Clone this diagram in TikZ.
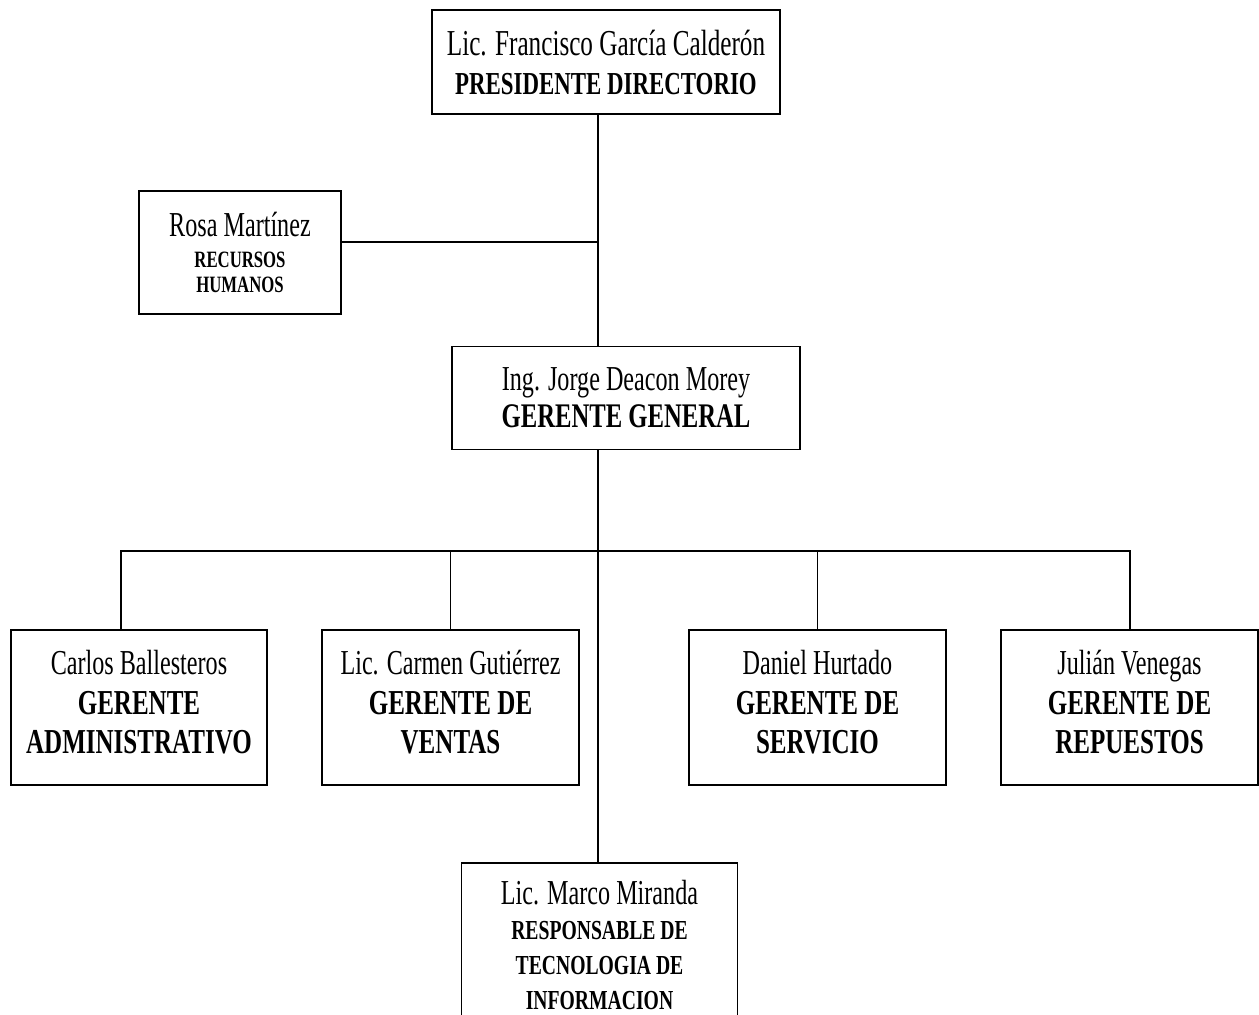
\documentclass[tikz,border=0pt]{standalone}
\usepackage{fontspec}
\setmainfont{Liberation Serif}[
    UprightFeatures={FakeStretch=0.69},
    BoldFeatures={FakeStretch=0.715}]
\usetikzlibrary{calc}

\begin{document}
\begin{tikzpicture}[
        x=1pt, y=-1pt,
        box/.style={draw, line width=1.6pt, align=center, inner sep=0pt},
        row box/.style={box, minimum width=257, minimum height=155,
        text depth=11pt, font=\fontsize{35}{39.5}\selectfont},
        link/.style={line width=1.4pt}
        ]
        \useasboundingbox (0,0) rectangle (1259,1015);

        % direccion
        \node[box, minimum width=348, minimum height=104,
            font=\fontsize{32}{39}\selectfont] (pres) at (606,62)
            {{\fontsize{36.5}{39}\selectfont Lic. Francisco García Calderón}\\
            \textbf{PRESIDENTE DIRECTORIO}};
        \node[box, minimum width=202, minimum height=123,
            font=\fontsize{23.4}{25}\selectfont] (rrhh) at (240,252.5)
            {{\fontsize{35}{38}\selectfont Rosa Martínez}\\[6pt]
            \textbf{RECURSOS}\\ \textbf{HUMANOS}};
        \node[box, minimum width=348, minimum height=103,
            font=\fontsize{35}{37}\selectfont] (gg) at (626,398)
            {Ing. Jorge Deacon Morey\\
            {\fontsize{34.5}{37}\selectfont\bfseries GERENTE GENERAL}};

        % gerencias
        \node[row box, minimum width=256] (carlos) at (139,707.5)
            {Carlos Ballesteros\\ \textbf{GERENTE}\\ \textbf{ADMINISTRATIVO}};
        \node[row box] (carmen) at (450.5,707.5)
            {Lic. Carmen Gutiérrez\\ \textbf{GERENTE DE}\\ \textbf{VENTAS}};
        \node[row box] (daniel) at (817.5,707.5)
            {Daniel Hurtado\\ \textbf{GERENTE DE}\\ \textbf{SERVICIO}};
        \node[row box] (julian) at (1129.5,707.5)
            {Julián Venegas\\ \textbf{GERENTE DE}\\ \textbf{REPUESTOS}};
        \node[box, minimum width=276, minimum height=182, text depth=18pt,
            font=\fontsize{27.5}{35}\selectfont] (marco) at (599.5,954)
            {{\fontsize{35}{40}\selectfont Lic. Marco Miranda}\\
            \textbf{RESPONSABLE DE}\\ \textbf{TECNOLOGIA DE}\\
            \textbf{INFORMACION}};

        % lineas
        \coordinate (hr) at (598,242);
        \coordinate (mid) at (598,551);
        \coordinate (bl) at (121,551);
        \coordinate (br) at (1130,551);

        \draw[link] (pres.south -| hr) -- (gg.north -| hr);
        \draw[link] (rrhh.east |- hr) -- (hr);
        \draw[link] (gg.south -| mid) -- (marco.north -| mid);
        \draw[link] (carlos.north -| bl) -- (bl) -- (br) -- (julian.north -| br);
        \foreach \n in {carmen, daniel}
            \draw[link] (\n.north) -- (\n.north |- mid);

    \end{tikzpicture}
\end{document}
